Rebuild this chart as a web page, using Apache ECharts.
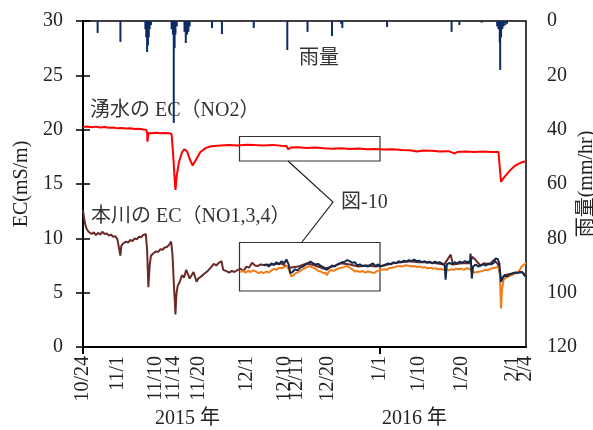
<!DOCTYPE html>
<html>
<head>
<meta charset="utf-8">
<script src="https://cdn.jsdelivr.net/npm/echarts@6/dist/echarts.min.js"></script>
<style>
  html,body{margin:0;padding:0;background:#fff;}
  #main{width:593px;height:430px;}
</style>
</head>
<body>
<div id="main"></div>
<script>
// x = days since 2015/10/24
// (12/11 label sits a bit right of its date in the original figure, so its position is read off the picture)
var tickDays = [0, 8, 17, 21, 27, 38, 47, 49.8, 57, 69, 78, 88, 100, 103];
var tickLabels = ['10/24', '11/1', '11/10', '11/14', '11/20', '12/1', '12/10', '12/11', '12/20', '1/1', '1/10', '1/20', '2/1', '2/4'];

// 湧水の EC (NO2)  [day, mS/m]
var springNo2 = [[0,20.25],[1,20.3],[2,20.22],[3,20.28],[4,20.2],[5,20.24],[6,20.18],[7,20.2],[8,20.12],[9,20.15],[10,20.1],[11,20.12],[12,20.06],[13,20.08],[14,20.02],[14.7,20.0],[14.9,19.7],[15.0,18.9],[15.2,19.7],[16,19.68],[17,19.72],[18,19.66],[19,19.7],[20,19.68],[20.6,19.6],[21.0,17.5],[21.3,15.5],[21.5,14.45],[21.8,15.8],[22.3,17.0],[23,17.9],[23.6,18.2],[24.2,18.0],[24.8,17.3],[25.5,16.7],[25.9,16.8],[26.5,17.4],[27.3,17.95],[28.5,18.3],[29.5,18.45],[30.5,18.5],[32,18.55],[34,18.6],[36,18.55],[38,18.62],[40,18.58],[42,18.55],[44,18.6],[46,18.52],[47.3,18.5],[47.7,18.2],[48.3,18.35],[50,18.38],[52,18.32],[54,18.36],[56,18.3],[58,18.25],[60,18.3],[62,18.22],[64,18.26],[66,18.2],[68,18.22],[70,18.18],[72,18.2],[74,18.14],[76,18.1],[77.7,18.0],[79,18.08],[81,18.05],[83,18.0],[85,18.02],[86.5,17.8],[87,17.95],[89,18.0],[91,17.95],[93,17.98],[95,17.94],[96.6,17.95],[96.9,16.5],[97.2,15.2],[97.5,15.4],[98.3,15.8],[99.4,16.3],[100.5,16.7],[101.7,16.95],[103,17.1]];

// 本川の EC
var riverNo1 = [[0,12.6],[0.4,11.5],[0.8,10.9],[1.3,10.6],[2,10.4],[2.5,10.55],[3,10.3],[3.5,10.5],[4,10.35],[4.5,10.6],[5,10.4],[5.5,10.45],[6,10.25],[6.5,10.35],[7,10.15],[7.5,10.2],[8,9.9],[8.4,9.8],[8.7,8.4],[8.9,9.3],[9.4,9.55],[10,9.7],[10.5,9.6],[11,9.85],[11.5,9.75],[12,10.0],[12.5,9.9],[13,10.15],[13.5,10.1],[14,10.3],[14.6,10.4],[14.9,9.0],[15.2,5.5],[15.5,7.5],[15.8,8.4],[16.3,8.6],[17,8.8],[17.5,8.75],[18,9.0],[18.5,8.95],[19,9.15],[19.5,9.2],[20,9.4],[20.5,9.7],[20.8,8.5],[21.1,6.0],[21.5,3.0],[21.7,4.8],[22,5.6],[22.5,6.0],[23,6.6],[23.5,6.4],[24,7.1],[24.4,7.0],[24.8,6.3],[25.2,6.2],[25.7,6.9],[26.1,7.0],[26.4,6.0],[26.8,6.3],[27.5,6.5],[28.4,6.8],[29,7.0],[29.7,7.3],[30.4,7.65],[31,7.5],[31.6,7.75],[32.2,7.9],[32.6,7.1],[33.2,7.0],[34,6.85],[34.6,7.0],[35.2,6.9],[36,7.1],[36.6,7.2],[37.3,7.0],[38,7.4],[38.6,7.3],[39.3,7.75],[40,7.5],[40.6,7.45],[41.3,7.6],[42,7.55],[44,7.6],[46,7.7],[48,7.3],[50,7.4],[52,7.7],[54,7.5],[56,7.2],[58,7.4],[60,7.7],[62,7.6],[64,7.4],[66,7.5],[68,7.4],[70,7.5],[72,7.7],[74,7.8],[76,7.9],[78,7.8],[80,7.8],[82,7.7],[84,7.6],[85.5,8.5],[86,7.6],[88,7.7],[90,7.7],[90.5,8.3],[91.3,8.0],[92.4,7.5],[93.2,7.7],[94.5,7.6],[95.5,8.0],[96.5,7.6],[97.2,6.2],[98,6.6],[100,6.8],[102,6.9],[103,6.6]];

var riverNo3 = [[36.6,6.9],[37.2,7.0],[37.8,6.85],[38.4,7.0],[39,6.9],[39.6,7.05],[40.2,6.95],[40.8,6.8],[41.4,6.9],[42,6.8],[42.6,6.95],[43.2,6.85],[43.8,7.05],[44.4,7.2],[45,7.1],[45.6,7.3],[46.2,7.25],[46.8,7.35],[47.4,7.45],[47.9,7.1],[48.4,6.5],[48.9,6.6],[49.5,6.8],[50.1,6.9],[50.7,7.05],[51.3,7.2],[51.9,7.3],[52.5,7.45],[52.9,7.5],[53.5,7.3],[54.1,7.2],[54.7,7.0],[55.3,6.95],[55.9,6.8],[56.4,6.85],[56.7,6.6],[57.1,6.9],[57.7,7.1],[58.3,7.0],[58.9,7.15],[59.5,7.25],[60.1,7.3],[60.7,7.35],[61.4,7.45],[62,7.3],[62.6,7.15],[63.2,6.95],[63.8,7.0],[64.4,6.9],[65,7.0],[65.6,6.85],[66.2,6.95],[66.8,6.9],[67.6,6.8],[68.2,6.95],[68.8,7.05],[69.4,7.1],[70,7.15],[70.6,7.1],[71.2,7.25],[71.8,7.3],[72.4,7.35],[73,7.4],[73.6,7.45],[74.2,7.4],[74.8,7.5],[75.3,7.5],[75.9,7.45],[76.5,7.4],[77.1,7.45],[77.7,7.35],[78.3,7.4],[78.9,7.3],[79.5,7.35],[80.1,7.25],[80.8,7.3],[81.4,7.2],[82,7.25],[82.6,7.15],[83.2,7.2],[83.8,7.1],[84.4,7.15],[85,7.05],[85.6,7.15],[86.2,7.1],[86.8,7.2],[87.4,7.15],[88,7.2],[88.6,7.1],[89.2,7.25],[89.8,7.2],[90.1,7.25],[90.5,7.0],[91.1,6.85],[91.7,6.9],[92.3,6.95],[92.9,7.0],[93.5,7.1],[94.1,7.05],[94.7,7.2],[95.3,7.25],[95.9,7.3],[96.5,7.4],[96.9,7.0],[97.2,3.55],[97.4,5.2],[97.8,6.2],[98.4,6.4],[99,6.5],[99.6,6.6],[100.2,6.7],[100.8,6.85],[101.4,7.0],[102,7.4],[102.6,7.6],[103,7.75]];

var riverNo4 = [[42,7.5],[42.6,7.6],[43.2,7.4],[43.8,7.7],[44.4,7.55],[45,7.8],[45.6,7.6],[46.2,7.9],[46.8,7.7],[47.3,8.05],[47.8,7.6],[48.2,6.8],[48.7,6.9],[49.3,7.15],[49.9,7.05],[50.5,7.3],[51.1,7.4],[51.7,7.55],[52.3,7.7],[52.9,7.85],[53.5,7.7],[54.1,7.6],[54.7,7.65],[55.3,7.45],[55.9,7.35],[56.7,7.1],[57.3,7.3],[57.9,7.5],[58.5,7.4],[59.1,7.6],[59.7,7.7],[60.3,7.8],[60.9,7.85],[61.4,8.0],[62,7.9],[62.6,7.75],[63.2,7.8],[63.8,7.5],[64.4,7.6],[65,7.45],[65.6,7.5],[66.2,7.4],[66.8,7.55],[67.4,7.7],[68,7.45],[68.6,7.6],[69.2,7.4],[69.8,7.5],[70.4,7.6],[71,7.7],[71.6,7.6],[72.2,7.8],[72.8,7.7],[73.4,7.9],[74,7.8],[74.6,7.95],[75.2,7.85],[75.8,8.0],[76.4,7.9],[77,8.05],[77.6,7.9],[78.2,7.95],[78.8,7.8],[79.4,7.9],[80,7.75],[80.6,7.85],[81.2,7.7],[81.8,7.85],[82.4,7.75],[83,7.8],[83.6,7.65],[84.1,7.5],[84.3,6.2],[84.6,7.6],[85.2,7.75],[85.8,7.6],[86.4,7.8],[87,7.7],[87.6,7.85],[88.2,7.75],[88.8,7.9],[89.4,7.8],[90,7.9],[90.1,8.6],[90.4,6.3],[90.7,7.4],[91.3,7.6],[91.9,7.4],[92.5,7.5],[93.1,7.6],[93.7,7.5],[94.3,7.7],[94.9,7.6],[95.5,7.75],[95.9,8.15],[96.4,8.1],[96.8,7.7],[97.0,6.8],[97.2,6.0],[97.5,6.3],[98,6.6],[98.6,6.5],[99.2,6.7],[99.8,6.75],[100.4,6.85],[101,6.8],[101.6,6.9],[102.2,6.85],[102.6,6.6],[103,6.5]];

// 雨量 [day, mm/hr]
var rain = [[3.4,4.4],[8.7,7.7],[14.5,3],[14.7,6],[14.9,11.4],[15.1,9],[15.3,6],[15.5,3],[15.8,1.5],[20.6,3],[20.9,5],[21.1,37.5],[21.3,10],[21.5,5],[21.8,2],[23.6,4],[23.9,8.1],[24.2,5],[24.5,4],[24.8,2],[30.0,2.6],[32.3,4.8],[39.7,2.6],[47.5,10.7],[52.2,4],[57.9,5.5],[60.0,1],[60.3,2.6],[70.7,2.2],[85.7,4],[87.5,1.5],[92.7,0.6],[96.3,2],[96.6,3],[96.9,8],[97.0,18],[97.2,6],[97.5,3],[97.8,2],[98.2,1.5],[98.6,1]];

var serif = '"Liberation Serif", "Noto Sans CJK JP", serif';
var txtColor = '#222';

// label formatter shared by both x axes
function dayLabel(v) {
    var i = tickDays.indexOf(v);
    return i < 0 ? '' : tickLabels[i];
}

var xLabelStyle = {rotate: 90, margin: 9, color: txtColor, fontFamily: serif, fontSize: 20, formatter: dayLabel};

var myChart = echarts.init(document.getElementById('main'));

var option = {
    animation: false,
    grid: {
        left: 83, right: 67, top: 21, bottom: 83,
        outerBoundsMode: 'none',
        containLabel: false,
        show: true, borderColor: '#000', borderWidth: 1.5
    },
    xAxis: [{
        type: 'value',
        position: 'bottom',
        min: 0, max: 103,
        splitLine: {show: false},
        axisLine: {lineStyle: {color: '#000', width: 2}},
        axisTick: {show: true, customValues: [0, 69], length: 7, lineStyle: {color: '#000', width: 2}},
        axisLabel: Object.assign({customValues: tickDays.slice(0, -1), showMinLabel: true, showMaxLabel: true}, xLabelStyle)
    }, {
        // only the 2/4 label, otherwise echarts drops it or 2/1 as overlapping
        type: 'value',
        position: 'bottom',
        offset: 0,
        min: 0, max: 103,
        splitLine: {show: false},
        axisLine: {show: false},
        axisTick: {show: false},
        axisLabel: Object.assign({customValues: tickDays.slice(-1), showMaxLabel: true}, xLabelStyle)
    }],
    yAxis: [{
        type: 'value',
        min: 0, max: 30, interval: 5,
        name: 'EC(mS/m)',
        nameLocation: 'middle',
        nameGap: 51,
        nameMoveOverlap: false,
        nameTextStyle: {fontFamily: serif, fontSize: 20, color: txtColor},
        splitLine: {show: false},
        axisLine: {show: true, lineStyle: {color: '#000', width: 2}},
        axisTick: {show: true, length: 7, lineStyle: {color: '#000', width: 1.5}},
        axisLabel: {margin: 20, color: txtColor, fontFamily: serif, fontSize: 20}
    }, {
        type: 'value',
        position: 'right',
        inverse: true,
        min: 0, max: 120, interval: 20,
        name: '雨量(mm/hr)',
        nameLocation: 'middle',
        nameRotate: 90,
        nameGap: 51,
        nameMoveOverlap: false,
        nameTextStyle: {fontFamily: serif, fontSize: 20, color: txtColor},
        splitLine: {show: false},
        axisLine: {show: true, lineStyle: {color: '#000', width: 2}},
        axisTick: {show: true, length: 7, lineStyle: {color: '#000', width: 1.5}},
        axisLabel: {margin: 21, color: txtColor, fontFamily: serif, fontSize: 20}
    }],
    series: [
        {name: '湧水', type: 'line', data: springNo2, showSymbol: false, lineStyle: {color: '#ff0000', width: 2}},
        {name: 'NO1', type: 'line', data: riverNo1, showSymbol: false, lineStyle: {color: '#6b2a2a', width: 2}},
        {name: 'NO3', type: 'line', data: riverNo3, showSymbol: false, lineStyle: {color: '#f07d1a', width: 2}},
        {name: 'NO4', type: 'line', data: riverNo4, showSymbol: false, lineStyle: {color: '#15294a', width: 2}},
        {name: '雨量', type: 'bar', yAxisIndex: 1, data: rain, barWidth: 2, itemStyle: {color: '#0b2c64'}}
    ],
    graphic: [
        // 注記
        {type: 'text', left: 90, top: 101, style: {text: '湧水の EC（NO2）', font: '20px ' + serif, fill: '#333'}},
        {type: 'text', left: 91, top: 207, style: {text: '本川の EC（NO1,3,4）', font: '20px ' + serif, fill: '#333'}},
        {type: 'text', left: 299, top: 49, style: {text: '雨量', font: '20px ' + serif, fill: '#333'}},
        {type: 'text', left: 341, top: 193, style: {text: '図-10', font: '20px ' + serif, fill: '#333'}},
        // 枠
        {type: 'rect', shape: {x: 239.5, y: 136.5, width: 140.5, height: 24.5}, style: {fill: null, stroke: '#333', lineWidth: 1.2}},
        {type: 'rect', shape: {x: 239.5, y: 242.5, width: 140.5, height: 48.5}, style: {fill: null, stroke: '#333', lineWidth: 1.2}},
        {type: 'polyline', shape: {points: [[288, 161], [333, 202], [302, 242]]}, style: {fill: null, stroke: '#222', lineWidth: 1.2}},
        // 年
        {type: 'text', left: 155, top: 409, style: {text: '2015 年', font: '20px ' + serif, fill: txtColor}},
        {type: 'text', left: 382, top: 409, style: {text: '2016 年', font: '20px ' + serif, fill: txtColor}}
    ]
};

myChart.setOption(option);
</script>
</body>
</html>
